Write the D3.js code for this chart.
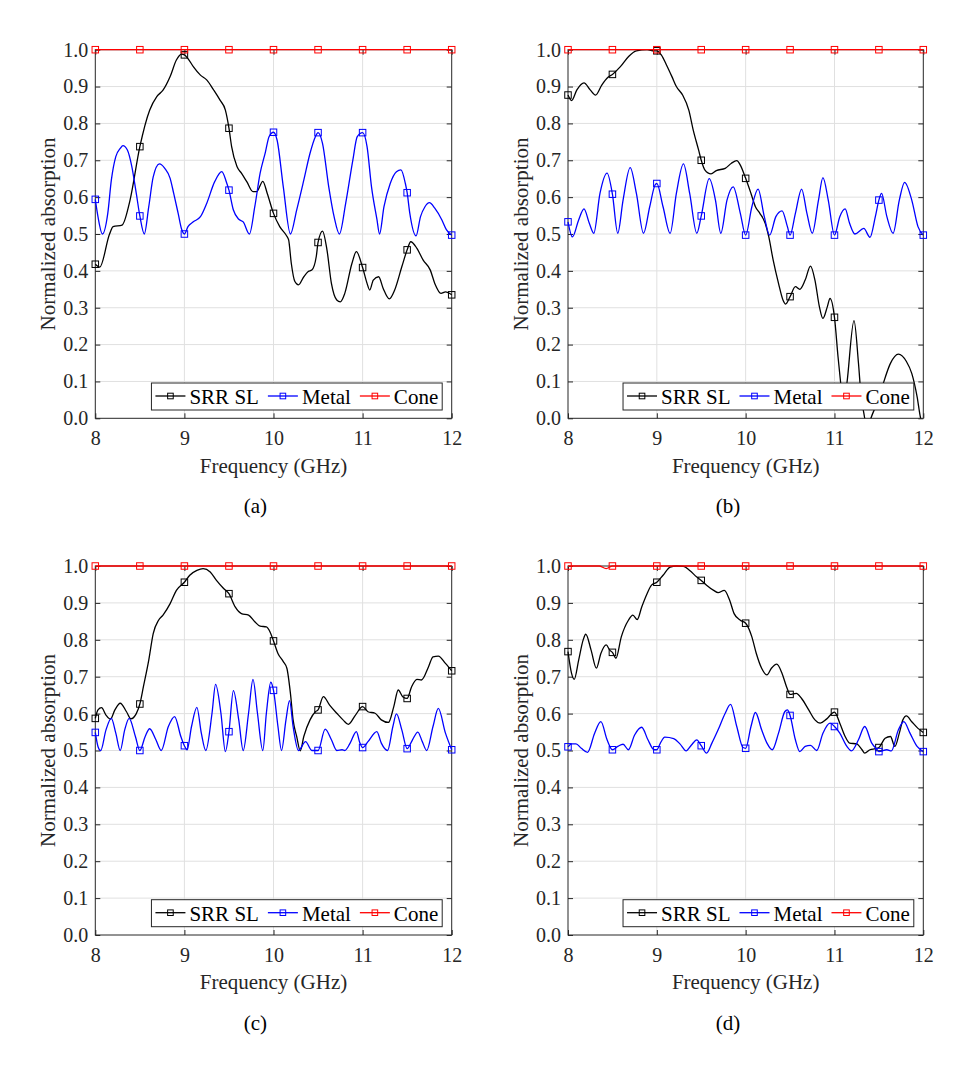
<!DOCTYPE html>
<html lang="en">
<head>
<meta charset="UTF-8">
<title>Normalized absorption</title>
<script src="https://d3js.org/d3.v7.min.js"></script>
<style>
  body { margin: 0; background: #fff; }
  svg { display: block; }
  svg text { font-family: "Liberation Serif", "Times New Roman", serif; }
</style>
</head>
<body>
<svg id="chart" width="972" height="1066"></svg>
<script>
// axis ticks
const freqTicks = [8, 9, 10, 11, 12];
const absTicks = [0, 0.1, 0.2, 0.3, 0.4, 0.5, 0.6, 0.7, 0.8, 0.9, 1.0];
const markerFreqs = [8, 8.5, 9, 9.5, 10, 10.5, 11, 11.5, 12];
const seriesNames = ["SRR SL", "Metal", "Cone"];
const seriesColors = ["#000000", "#0000ff", "#ff0000"];
const panelLabels = ["(a)", "(b)", "(c)", "(d)"];

// [frequency GHz, normalized absorption]
const srrA = [[8,0.418],[8.05,0.410],[8.16,0.500],[8.2,0.520],[8.3,0.524],[8.39,0.592],[8.5,0.737],[8.61,0.836],[8.69,0.873],[8.76,0.890],[8.84,0.927],[8.91,0.972],[8.97,0.988],[9,0.986],[9.04,0.976],[9.1,0.954],[9.18,0.931],[9.25,0.918],[9.33,0.890],[9.4,0.863],[9.46,0.836],[9.5,0.787],[9.53,0.737],[9.59,0.683],[9.64,0.665],[9.7,0.642],[9.77,0.615],[9.81,0.615],[9.88,0.643],[9.93,0.610],[10,0.556],[10.07,0.520],[10.15,0.494],[10.17,0.484],[10.2,0.420],[10.24,0.371],[10.28,0.362],[10.34,0.384],[10.39,0.398],[10.43,0.402],[10.48,0.439],[10.5,0.477],[10.55,0.508],[10.6,0.457],[10.65,0.366],[10.71,0.321],[10.75,0.316],[10.8,0.339],[10.88,0.420],[10.93,0.452],[11,0.409],[11.05,0.366],[11.08,0.348],[11.12,0.375],[11.18,0.384],[11.23,0.353],[11.3,0.324],[11.36,0.348],[11.44,0.411],[11.5,0.457],[11.54,0.479],[11.61,0.461],[11.68,0.429],[11.76,0.402],[11.81,0.366],[11.88,0.339],[11.93,0.343],[12,0.335]];
const metalA = [[8,0.594],[8.03,0.547],[8.08,0.500],[8.14,0.556],[8.18,0.646],[8.23,0.710],[8.28,0.732],[8.31,0.740],[8.36,0.728],[8.41,0.683],[8.46,0.610],[8.5,0.549],[8.55,0.500],[8.6,0.574],[8.65,0.655],[8.72,0.690],[8.78,0.678],[8.84,0.651],[8.88,0.610],[8.93,0.556],[8.97,0.512],[9,0.500],[9.04,0.520],[9.1,0.533],[9.18,0.547],[9.25,0.583],[9.34,0.642],[9.42,0.669],[9.47,0.642],[9.5,0.619],[9.55,0.565],[9.61,0.540],[9.66,0.533],[9.73,0.500],[9.79,0.574],[9.85,0.665],[9.91,0.723],[9.95,0.764],[10,0.776],[10.04,0.755],[10.11,0.628],[10.19,0.500],[10.26,0.565],[10.34,0.646],[10.41,0.719],[10.47,0.764],[10.5,0.775],[10.55,0.746],[10.62,0.628],[10.68,0.547],[10.74,0.500],[10.81,0.583],[10.89,0.700],[10.94,0.764],[11,0.775],[11.05,0.737],[11.1,0.628],[11.16,0.541],[11.19,0.500],[11.24,0.574],[11.31,0.637],[11.38,0.669],[11.43,0.674],[11.48,0.637],[11.5,0.612],[11.53,0.556],[11.6,0.495],[11.65,0.547],[11.7,0.574],[11.75,0.585],[11.81,0.570],[11.89,0.538],[11.94,0.512],[12,0.497]];
const coneA = [[8,1],[8.5,1],[9,1],[9.5,1],[10,1],[10.5,1],[11,1],[11.5,1],[12,1]];

const srrB = [[8,0.877],[8.04,0.862],[8.1,0.891],[8.18,0.910],[8.25,0.891],[8.31,0.877],[8.38,0.904],[8.45,0.925],[8.5,0.933],[8.59,0.954],[8.68,0.981],[8.77,0.997],[8.89,1.000],[8.97,0.997],[9,0.997],[9.05,0.986],[9.11,0.958],[9.17,0.927],[9.22,0.900],[9.29,0.877],[9.36,0.836],[9.41,0.782],[9.47,0.728],[9.5,0.700],[9.54,0.674],[9.61,0.663],[9.67,0.672],[9.77,0.678],[9.84,0.692],[9.9,0.699],[9.94,0.687],[10,0.651],[10.06,0.610],[10.11,0.574],[10.16,0.556],[10.22,0.529],[10.26,0.493],[10.31,0.429],[10.37,0.366],[10.42,0.321],[10.45,0.310],[10.5,0.330],[10.56,0.357],[10.61,0.350],[10.67,0.375],[10.73,0.413],[10.78,0.375],[10.83,0.303],[10.87,0.271],[10.92,0.303],[10.95,0.325],[11,0.274],[11.04,0.167],[11.07,0.095],[11.1,0.030],[11.14,0.095],[11.22,0.265],[11.27,0.150],[11.3,0.060],[11.33,0.015],[11.37,-0.030],[11.41,0.000],[11.5,0.055],[11.55,0.095],[11.63,0.149],[11.72,0.174],[11.81,0.154],[11.87,0.122],[11.93,0.059],[11.97,0.000],[12,-0.020]];
const metalB = [[8,0.533],[8.05,0.492],[8.12,0.538],[8.18,0.568],[8.24,0.529],[8.29,0.502],[8.36,0.610],[8.44,0.665],[8.5,0.608],[8.56,0.502],[8.62,0.592],[8.7,0.680],[8.77,0.610],[8.85,0.502],[8.92,0.574],[8.98,0.633],[9,0.637],[9.07,0.574],[9.15,0.502],[9.22,0.610],[9.3,0.690],[9.37,0.610],[9.45,0.502],[9.5,0.549],[9.59,0.650],[9.66,0.592],[9.72,0.502],[9.79,0.592],[9.86,0.628],[9.94,0.556],[10,0.497],[10.07,0.574],[10.14,0.622],[10.21,0.547],[10.27,0.497],[10.34,0.547],[10.41,0.563],[10.47,0.520],[10.5,0.497],[10.56,0.556],[10.63,0.622],[10.69,0.556],[10.75,0.502],[10.82,0.592],[10.87,0.653],[10.93,0.592],[11,0.497],[11.06,0.547],[11.12,0.568],[11.17,0.529],[11.23,0.500],[11.33,0.515],[11.4,0.491],[11.46,0.547],[11.5,0.592],[11.53,0.610],[11.59,0.547],[11.66,0.502],[11.73,0.592],[11.79,0.640],[11.87,0.592],[11.94,0.520],[12,0.497]];
const coneB = [[8,1],[8.5,1],[9,1],[9.5,1],[10,1],[10.5,1],[11,1],[11.5,1],[12,1]];

const srrC = [[8,0.587],[8.03,0.610],[8.07,0.616],[8.12,0.596],[8.17,0.585],[8.22,0.610],[8.28,0.628],[8.35,0.605],[8.4,0.586],[8.46,0.600],[8.5,0.626],[8.54,0.673],[8.6,0.745],[8.65,0.817],[8.71,0.853],[8.76,0.867],[8.84,0.898],[8.91,0.934],[9,0.956],[9.06,0.975],[9.14,0.988],[9.21,0.993],[9.29,0.984],[9.36,0.961],[9.44,0.939],[9.5,0.925],[9.57,0.889],[9.64,0.871],[9.72,0.867],[9.79,0.849],[9.85,0.837],[9.92,0.835],[9.96,0.822],[10,0.797],[10.05,0.763],[10.11,0.741],[10.15,0.723],[10.19,0.655],[10.22,0.583],[10.26,0.538],[10.3,0.499],[10.34,0.538],[10.41,0.583],[10.47,0.605],[10.5,0.610],[10.56,0.646],[10.63,0.623],[10.71,0.601],[10.78,0.583],[10.84,0.571],[10.92,0.596],[11,0.619],[11.06,0.605],[11.14,0.601],[11.21,0.583],[11.29,0.576],[11.35,0.619],[11.4,0.664],[11.45,0.646],[11.5,0.641],[11.55,0.673],[11.61,0.693],[11.66,0.691],[11.74,0.727],[11.79,0.754],[11.85,0.756],[11.93,0.736],[12,0.716]];
const metalC = [[8,0.549],[8.03,0.511],[8.06,0.500],[8.12,0.556],[8.18,0.587],[8.23,0.547],[8.28,0.500],[8.33,0.556],[8.38,0.587],[8.45,0.538],[8.5,0.500],[8.56,0.538],[8.61,0.559],[8.68,0.529],[8.74,0.500],[8.82,0.565],[8.89,0.592],[8.96,0.538],[9,0.513],[9.03,0.502],[9.08,0.565],[9.14,0.617],[9.19,0.547],[9.24,0.500],[9.31,0.601],[9.35,0.679],[9.41,0.601],[9.46,0.497],[9.5,0.551],[9.55,0.662],[9.61,0.583],[9.66,0.500],[9.72,0.601],[9.77,0.693],[9.82,0.601],[9.88,0.500],[9.92,0.601],[9.97,0.685],[10,0.663],[10.05,0.565],[10.09,0.500],[10.14,0.583],[10.18,0.635],[10.22,0.565],[10.28,0.500],[10.36,0.524],[10.43,0.500],[10.5,0.500],[10.58,0.558],[10.65,0.529],[10.71,0.500],[10.77,0.502],[10.8,0.500],[10.86,0.520],[10.93,0.551],[10.97,0.520],[11,0.508],[11.06,0.524],[11.16,0.551],[11.21,0.520],[11.28,0.500],[11.34,0.565],[11.38,0.599],[11.44,0.556],[11.5,0.505],[11.56,0.529],[11.62,0.550],[11.67,0.524],[11.72,0.500],[11.79,0.565],[11.85,0.614],[11.93,0.547],[12,0.502]];
const coneC = [[8,1],[8.5,1],[9,1],[9.5,1],[10,1],[10.5,1],[11,1],[11.5,1],[12,1]];

const srrD = [[8,0.768],[8.04,0.709],[8.07,0.693],[8.12,0.745],[8.17,0.799],[8.2,0.815],[8.26,0.772],[8.32,0.723],[8.37,0.763],[8.43,0.786],[8.47,0.772],[8.5,0.766],[8.54,0.750],[8.6,0.808],[8.68,0.853],[8.73,0.867],[8.78,0.855],[8.83,0.889],[8.89,0.925],[8.94,0.948],[9,0.956],[9.07,0.975],[9.15,0.997],[9.22,1.000],[9.3,0.999],[9.37,0.988],[9.45,0.970],[9.5,0.961],[9.56,0.948],[9.64,0.934],[9.69,0.928],[9.76,0.934],[9.82,0.907],[9.87,0.871],[9.94,0.853],[10,0.845],[10.07,0.808],[10.12,0.763],[10.18,0.723],[10.24,0.705],[10.29,0.723],[10.35,0.734],[10.41,0.709],[10.46,0.673],[10.5,0.652],[10.57,0.655],[10.63,0.641],[10.71,0.610],[10.78,0.583],[10.84,0.574],[10.91,0.585],[11,0.604],[11.06,0.574],[11.12,0.538],[11.17,0.520],[11.25,0.518],[11.31,0.502],[11.34,0.493],[11.4,0.502],[11.46,0.505],[11.5,0.508],[11.57,0.533],[11.63,0.538],[11.68,0.511],[11.73,0.547],[11.77,0.583],[11.81,0.594],[11.87,0.578],[11.94,0.560],[12,0.549]];
const metalD = [[8,0.510],[8.04,0.518],[8.09,0.518],[8.15,0.506],[8.22,0.495],[8.3,0.547],[8.37,0.578],[8.44,0.529],[8.5,0.502],[8.56,0.511],[8.62,0.517],[8.68,0.502],[8.75,0.542],[8.83,0.563],[8.9,0.529],[8.97,0.502],[9,0.502],[9.04,0.520],[9.09,0.536],[9.19,0.532],[9.26,0.518],[9.33,0.499],[9.39,0.515],[9.45,0.529],[9.5,0.513],[9.56,0.493],[9.62,0.520],[9.69,0.556],[9.77,0.601],[9.83,0.625],[9.9,0.565],[9.97,0.508],[10,0.506],[10.06,0.565],[10.11,0.603],[10.18,0.556],[10.24,0.520],[10.3,0.502],[10.37,0.547],[10.44,0.605],[10.47,0.610],[10.5,0.595],[10.56,0.529],[10.61,0.497],[10.67,0.511],[10.73,0.514],[10.8,0.500],[10.87,0.547],[10.95,0.574],[11,0.565],[11.06,0.547],[11.14,0.511],[11.19,0.499],[11.27,0.529],[11.34,0.565],[11.42,0.520],[11.48,0.502],[11.5,0.497],[11.59,0.502],[11.64,0.499],[11.72,0.556],[11.78,0.578],[11.85,0.547],[11.93,0.511],[12,0.497]];
const coneD = [[8,1],[8.35,1],[8.43,0.993],[8.5,1],[9,1],[9.5,1],[10,1],[10.5,1],[11,1],[11.5,1],[12,1]];

const panelData = [
  [srrA, metalA, coneA],
  [srrB, metalB, coneB],
  [srrC, metalC, coneC],
  [srrD, metalD, coneD]
];

// layout of the four axes boxes
const boxes = [
  { left: 95.3, top: 49.7, width: 356.4, height: 368.6 },
  { left: 568, top: 49.7, width: 355.3, height: 368.6 },
  { left: 95.3, top: 566, width: 356.4, height: 369 },
  { left: 568, top: 566, width: 355.3, height: 369 }
];

const serif = "'Liberation Serif', 'Times New Roman', serif";
const axisColor = "#262626";
const gridColor = "#e0e0e0";
const svg = d3.select("#chart");

boxes.forEach((b, i) => drawPanel(b, panelData[i], panelLabels[i], i));

function drawPanel(b, series, label, idx) {
  const x = d3.scaleLinear().domain([8, 12]).range([b.left, b.left + b.width]);
  const y = d3.scaleLinear().domain([0, 1]).range([b.top + b.height, b.top]);
  const g = svg.append("g");

  // grid
  g.selectAll(".gx").data(freqTicks.slice(1, -1)).join("line")
    .attr("x1", d => x(d)).attr("x2", d => x(d))
    .attr("y1", y(0)).attr("y2", y(1))
    .attr("stroke", gridColor).attr("stroke-width", 1);
  g.selectAll(".gy").data(absTicks.slice(1, -1)).join("line")
    .attr("x1", x(8)).attr("x2", x(12))
    .attr("y1", d => y(d)).attr("y2", d => y(d))
    .attr("stroke", gridColor).attr("stroke-width", 1);

  // axes
  const styleAxis = sel => {
    sel.attr("font-family", serif).attr("font-size", 20);
    sel.select(".domain").remove();
    sel.selectAll("line").attr("stroke", axisColor);
    sel.selectAll("text").attr("fill", axisColor);
  };
  g.append("g").attr("transform", `translate(0,${y(0)})`)
    .call(d3.axisBottom(x).tickValues(freqTicks).tickFormat(d3.format("d"))
      .tickSizeInner(-5).tickSizeOuter(0).tickPadding(13))
    .call(styleAxis);
  g.append("g").attr("transform", `translate(0,${y(1)})`)
    .call(d3.axisTop(x).tickValues(freqTicks).tickFormat("").tickSizeInner(-5).tickSizeOuter(0))
    .call(styleAxis);
  g.append("g").attr("transform", `translate(${x(8)},0)`)
    .call(d3.axisLeft(y).tickValues(absTicks).tickFormat(d3.format(".1f"))
      .tickSizeInner(-5).tickSizeOuter(0).tickPadding(7))
    .call(styleAxis);
  g.append("g").attr("transform", `translate(${x(12)},0)`)
    .call(d3.axisRight(y).tickValues(absTicks).tickFormat("").tickSizeInner(-5).tickSizeOuter(0))
    .call(styleAxis);

  g.append("rect")
    .attr("x", x(8)).attr("y", y(1))
    .attr("width", x(12) - x(8)).attr("height", y(0) - y(1))
    .attr("fill", "none").attr("stroke", axisColor).attr("stroke-width", 1);

  // clip
  const clipId = "clip" + idx;
  svg.append("clipPath").attr("id", clipId).append("rect")
    .attr("x", x(8) - 4).attr("y", y(1) - 4)
    .attr("width", x(12) - x(8) + 8).attr("height", y(0) - y(1) + 4);

  const line = d3.line()
    .x(d => x(d[0])).y(d => y(d[1]))
    .curve(d3.curveMonotoneX);

  const ms = 6.5;
  series.forEach((s, k) => {
    g.append("path").datum(s)
      .attr("clip-path", `url(#${clipId})`)
      .attr("d", line)
      .attr("fill", "none")
      .attr("stroke", seriesColors[k])
      .attr("stroke-width", 1.3);
    const marks = s.filter(d => markerFreqs.includes(d[0]) && d[1] >= 0 && d[1] <= 1);
    g.selectAll(null).data(marks).join("rect")
      .attr("x", d => x(d[0]) - ms / 2)
      .attr("y", d => y(d[1]) - ms / 2)
      .attr("width", ms).attr("height", ms)
      .attr("fill", "none")
      .attr("stroke", seriesColors[k])
      .attr("stroke-width", 1);
  });

  // axis labels
  g.append("text")
    .attr("x", (x(8) + x(12)) / 2).attr("y", y(0) + 54.2)
    .attr("text-anchor", "middle")
    .attr("font-family", serif).attr("font-size", 21)
    .attr("fill", axisColor)
    .text("Frequency (GHz)");
  g.append("text")
    .attr("transform", `translate(${x(8) - 40.5},${(y(0) + y(1)) / 2}) rotate(-90)`)
    .attr("text-anchor", "middle")
    .attr("font-family", serif).attr("font-size", 21)
    .attr("fill", axisColor)
    .text("Normalized absorption");

  // sub-figure label
  g.append("text")
    .attr("x", x(8) + 160).attr("y", y(0) + 94.5)
    .attr("text-anchor", "middle")
    .attr("font-family", serif).attr("font-size", 21)
    .attr("fill", "#000")
    .text(label);

  // legend
  const leg = g.append("g");
  const legH = 27;
  const legTop = y(0) - 8.3 - legH;
  let cx = 4;
  seriesNames.forEach((name, k) => {
    const it = leg.append("g");
    it.append("line")
      .attr("x1", cx).attr("x2", cx + 30)
      .attr("y1", 13).attr("y2", 13)
      .attr("stroke", seriesColors[k]).attr("stroke-width", 1.3);
    it.append("rect")
      .attr("x", cx + 15 - 2.8).attr("y", 13 - 2.8)
      .attr("width", 5.6).attr("height", 5.6)
      .attr("fill", "none").attr("stroke", seriesColors[k]).attr("stroke-width", 1);
    const t = it.append("text")
      .attr("x", cx + 34).attr("y", 21.3)
      .attr("font-family", serif).attr("font-size", 21)
      .attr("fill", "#000")
      .text(name);
    cx += 34 + t.node().getComputedTextLength() + 9;
  });
  const legW = cx - 9 + 4;
  leg.insert("rect", ":first-child")
    .attr("x", 0).attr("y", 0)
    .attr("width", legW).attr("height", legH)
    .attr("fill", "#fff").attr("stroke", axisColor).attr("stroke-width", 1);
  leg.attr("transform", `translate(${x(12) - 9.5 - legW},${legTop})`);
}
</script>
</body>
</html>
